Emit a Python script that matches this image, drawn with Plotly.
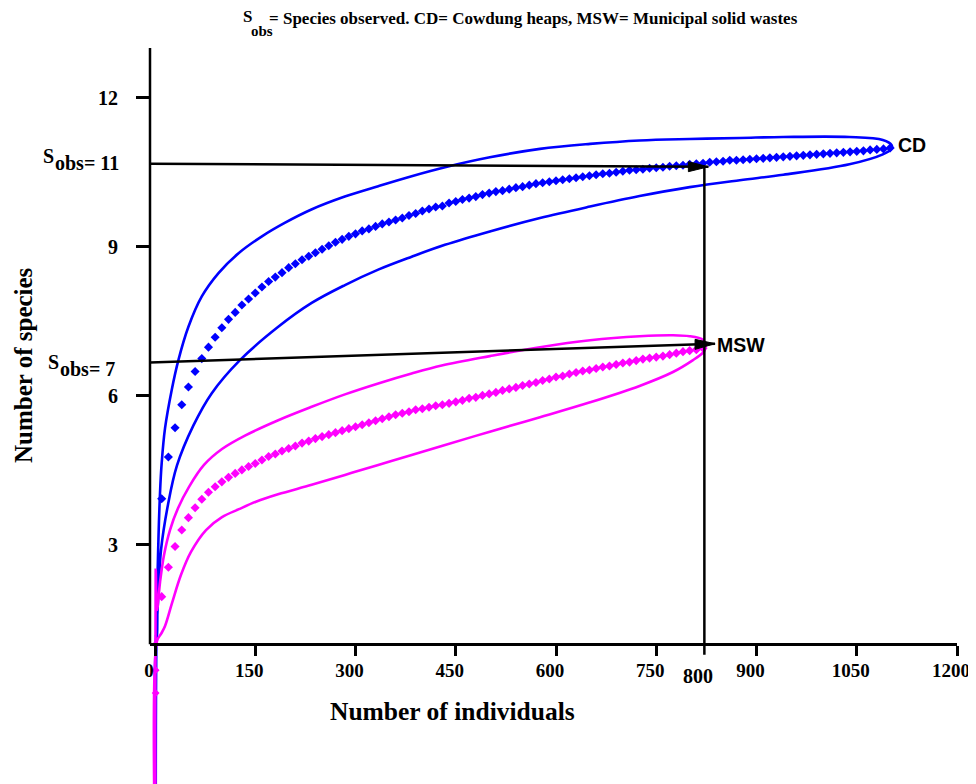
import plotly.graph_objects as go

# ---------------- data ----------------
cd_n = list(range(10, 1101, 10))
cd_mean = [3.93, 4.77, 5.36, 5.82, 6.18, 6.49, 6.75, 6.98, 7.18, 7.37,
           7.54, 7.68, 7.83, 7.95, 8.07, 8.19, 8.30, 8.39, 8.48, 8.58,
           8.66, 8.74, 8.81, 8.88, 8.95, 9.02, 9.09, 9.15, 9.21, 9.26,
           9.32, 9.36, 9.41, 9.46, 9.50, 9.54, 9.58, 9.63, 9.67, 9.72,
           9.76, 9.80, 9.82,
           9.88, 9.91, 9.95, 9.98, 10.01, 10.05, 10.08, 10.11, 10.13, 10.16,
           10.19, 10.21, 10.24, 10.27, 10.29, 10.31, 10.33, 10.35, 10.37, 10.39,
           10.41, 10.43, 10.45, 10.47, 10.48, 10.50, 10.52, 10.54, 10.55, 10.56,
           10.58, 10.59, 10.60, 10.62, 10.63, 10.64, 10.66, 10.67, 10.68, 10.70,
           10.71, 10.72, 10.74, 10.74,
           10.75, 10.76, 10.77, 10.78, 10.79, 10.80, 10.81, 10.82, 10.83, 10.84,
           10.85, 10.86, 10.87, 10.88, 10.89, 10.90, 10.91, 10.92, 10.93, 10.95,
           10.96, 10.97, 10.99]

cd_upper_n = [1, 2.5, 4.0, 7.5, 10, 15, 25, 35, 50, 70, 95, 125, 160, 194, 234, 284,
              334, 384, 434, 501, 576, 651, 725, 800, 875, 940, 1039, 1089, 1102]
cd_upper = [1.2, 1.09, 2.50, 4.05, 4.65, 5.35, 6.12, 6.72, 7.39, 8.00, 8.47, 8.87, 9.21,
            9.48, 9.75, 10.01, 10.22, 10.42, 10.60, 10.80, 10.97, 11.07, 11.14,
            11.17, 11.19, 11.21, 11.21, 11.15, 11.05]
cd_lower_n = [1, 2.2, 4.5, 9, 19.4, 32.9, 57.3, 84.7, 127.1, 184.4, 234.4, 284.2,
              334, 384, 433.8, 501, 576, 651, 725, 800, 875, 940, 1039, 1089, 1102]
cd_lower = [-4.0, 1.09, 1.89, 2.90, 3.81, 4.60, 5.40, 6.05, 6.72, 7.39, 7.87,
            8.23, 8.54, 8.80, 9.04, 9.31, 9.58, 9.81, 10.02, 10.20, 10.34, 10.45,
            10.66, 10.86, 10.97]

msw_n = list(range(10, 821, 10))
msw_mean = [1.96, 2.55, 2.97, 3.30, 3.55, 3.75, 3.92, 4.06, 4.17, 4.27,
            4.36, 4.44, 4.51, 4.58, 4.64, 4.71, 4.78, 4.83, 4.89, 4.94,
            4.99, 5.05, 5.09, 5.14, 5.18, 5.22, 5.26, 5.30, 5.34, 5.38,
            5.42, 5.46, 5.50, 5.54, 5.58, 5.62, 5.65, 5.68, 5.72, 5.74,
            5.77, 5.80, 5.82,
            5.85, 5.88, 5.91, 5.95, 5.97, 6.01, 6.04, 6.07, 6.11, 6.14,
            6.17, 6.21, 6.24, 6.27, 6.31, 6.34, 6.38, 6.40, 6.44, 6.47,
            6.50, 6.52, 6.55, 6.58, 6.60, 6.63, 6.66, 6.68, 6.71, 6.74,
            6.76, 6.78, 6.80, 6.83, 6.86, 6.89, 6.91, 6.93, 6.96]
msw_start_n = [1, 1, 1]
msw_start = [1.0, 0.48, 0.02]

msw_upper_n = [1, 3.0, 7.5, 13.5, 22.4, 34.4, 50.9, 73.3, 100.2, 134.6, 184.4, 234.4,
               284.2, 334, 384, 429, 501, 576, 651, 725, 775, 800, 820, 823]
msw_upper = [2.5, 1.69, 2.25, 2.80, 3.30, 3.74, 4.17, 4.61, 4.93, 5.20, 5.51, 5.78,
             6.03, 6.25, 6.45, 6.61, 6.80, 6.98, 7.12, 7.20, 7.22, 7.20, 7.13, 7.06]
msw_lower_n = [1, 3, 9, 15, 25.4, 38.9, 53.8, 76.3, 100.2, 125.6, 151, 184, 234.4,
               284.2, 334, 384, 429, 501, 576, 651, 725, 775, 805, 820, 823]
msw_lower = [-4.0, 1.07, 1.21, 1.37, 1.83, 2.40, 2.86, 3.30, 3.56, 3.72, 3.87, 4.02,
             4.21, 4.41, 4.61, 4.81, 4.99, 5.28, 5.57, 5.87, 6.20, 6.48, 6.72, 6.87, 6.94]

x_ticks = [0, 150, 300, 450, 600, 750, 900, 1050, 1200]
y_ticks = [3, 6, 9, 12]
cd_obs, msw_obs = 11, 7
cut_n = 822          # vertical guide, labelled "800" in the reference

BLUE = "#0000FF"
PINK = "#FF00FF"
SERIF = "Liberation Serif"
SANS = "Liberation Sans"

# ---------------- geometry helpers ----------------
OFF = 8                      # page body margin
X0, X1 = -7.5, 1200
Y0, Y1 = -1.81, 13
W, H = 976 - OFF, 784 - OFF
L, R, T, B = 150 - OFF, 19, 48 - OFF, 0
pw, ph = W - L - R, H - T - B
px_per_x = pw / (X1 - X0)
px_per_y = ph / (Y1 - Y0)


def xp(px):
    return (px - OFF - L) / pw


def yp(py):
    return (H - B - (py - OFF)) / ph


def ci_path(un, uv, ln, lv):
    xs = [un[0]] + ln + un[::-1]
    ys = [uv[0]] + lv + uv[::-1]
    return xs, ys


fig = go.Figure()

cx, cy = ci_path(cd_upper_n, cd_upper, cd_lower_n, cd_lower)
fig.add_trace(go.Scatter(x=cx, y=cy, mode="lines",
                         line=dict(color=BLUE, width=2.6, shape="spline", smoothing=1.0)))
fig.add_trace(go.Scatter(x=cd_n, y=cd_mean, mode="markers",
                         marker=dict(symbol="diamond", size=7, color=BLUE)))

mx, my = ci_path(msw_upper_n, msw_upper, msw_lower_n, msw_lower)
fig.add_trace(go.Scatter(x=mx, y=my, mode="lines",
                         line=dict(color=PINK, width=2.6, shape="spline", smoothing=1.0)))
fig.add_trace(go.Scatter(x=msw_n, y=msw_mean, mode="markers",
                         marker=dict(symbol="diamond", size=7, color=PINK)))
fig.add_trace(go.Scatter(x=msw_start_n, y=msw_start, mode="markers",
                         marker=dict(symbol="diamond", size=6, color=PINK)))

# ---------------- guide lines & arrows ----------------
shapes = []
shapes.append(dict(type="line", xref="paper", yref="y", x0=0, x1=0, y0=1, y1=13,
                   line=dict(color="black", width=2.5)))


def arrow(x_start, y_start, x_tip, y_tip, head_px=20, half_px=5):
    shapes.append(dict(type="line", xref="x", yref="y", x0=x_start, y0=y_start,
                       x1=x_tip, y1=y_tip, line=dict(color="black", width=2.5)))
    bx = x_tip - head_px / px_per_x
    frac = (bx - x_start) / (x_tip - x_start)
    by = y_start + (y_tip - y_start) * frac
    hw = half_px / px_per_y
    shapes.append(dict(type="path", xref="x", yref="y",
                       path=f"M {bx},{by + hw} L {x_tip},{y_tip} L {bx},{by - hw} Z",
                       fillcolor="black", line=dict(color="black", width=1)))


arrow(X0, 10.67, 828, 10.61)
arrow(X0, 6.67, 838, 7.05)
shapes.append(dict(type="line", xref="x", yref="y", x0=cut_n, x1=cut_n, y0=0.79, y1=10.62,
                   line=dict(color="black", width=2.5)))

# ---------------- text ----------------
ann = []


def text(t, x, y, size, family=SERIF, xanchor="center", xref="paper", yref="paper",
         angle=0, xshift=0):
    ann.append(dict(text=t, x=x, y=y, xref=xref, yref=yref, showarrow=False,
                    xanchor=xanchor, yanchor="middle", textangle=angle, xshift=xshift,
                    font=dict(family=family, size=size, color="black", weight="bold")))


# top note
text("S", xp(247), yp(17), 17)
text("obs", xp(249), yp(31), 15, xanchor="left")
text("= Species observed. CD= Cowdung heaps, MSW= Municipal solid wastes",
     xp(267), yp(18), 17, xanchor="left")

# S_obs labels
text("S", xp(48), yp(156), 20)
text(f"obs= {cd_obs}", xp(53), yp(163), 20, xanchor="left")
text("S", xp(53.5), yp(362), 20)
text(f"obs= {msw_obs}", xp(58), yp(369), 20, xanchor="left")

# series labels
text("CD", 1108, 11.05, 19.5, family=SANS, xanchor="left", xref="x", yref="y")
text("MSW", 838, 7.03, 19.5, family=SANS, xanchor="left", xref="x", yref="y")

# extra tick label
text("800", cut_n, yp(676), 20, xref="x", xshift=-6)

# axis titles
text("Number of individuals", xp(452), yp(711), 25.5)
text("Number of species", xp(23), yp(365), 25, angle=-90)

fig.update_layout(
    width=W, height=H,
    margin=dict(l=L, r=R, t=T, b=B),
    plot_bgcolor="white", paper_bgcolor="white",
    showlegend=False,
    shapes=shapes, annotations=ann,
    xaxis=dict(range=[X0, X1], anchor="free", position=yp(644.3),
               showline=True, linecolor="black", linewidth=3,
               ticks="outside", ticklen=10, tickwidth=3, tickcolor="black",
               tickvals=x_ticks, ticktext=[str(v) for v in x_ticks],
               tickfont=dict(family=SERIF, size=19, color="black", weight="bold"),
               ticklabelstandoff=-2, ticklabelshift=-6, ticklabeloverflow="allow",
               showgrid=False, zeroline=False),
    yaxis=dict(range=[Y0, Y1], showline=False,
               ticks="outside", ticklen=13, tickwidth=2.5, tickcolor="black",
               tickvals=y_ticks, ticktext=[str(v) for v in y_ticks],
               tickfont=dict(family=SERIF, size=20, color="black", weight="bold"),
               ticklabelstandoff=14,
               showgrid=False, zeroline=False),
)

fig.write_html("out.html")
